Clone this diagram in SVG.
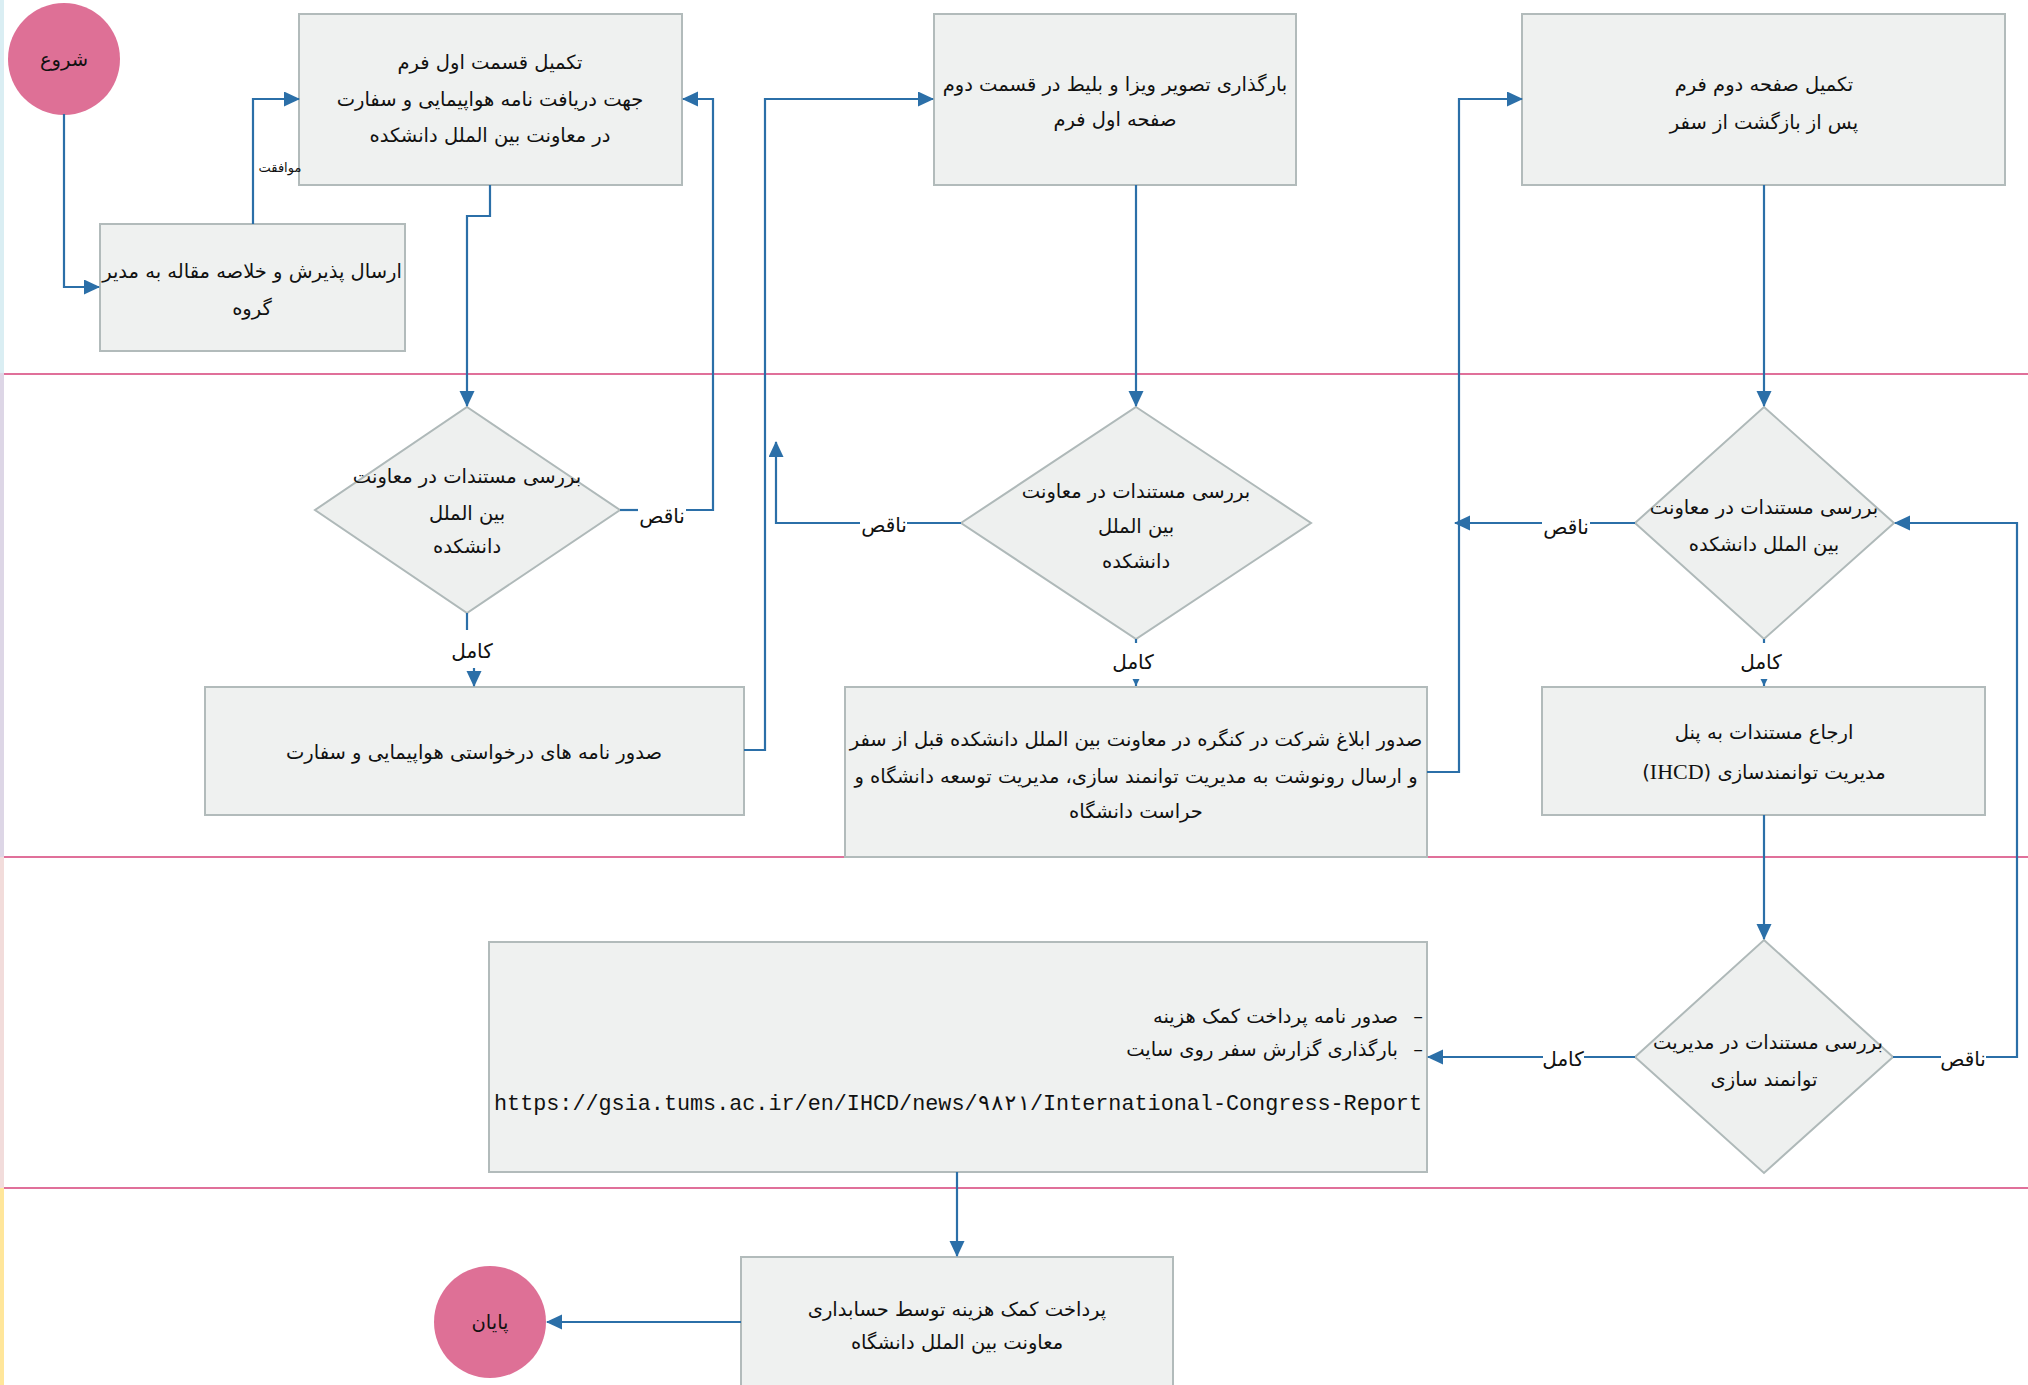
<svg xmlns="http://www.w3.org/2000/svg" width="2028" height="1385" viewBox="0 0 2028 1385">
<style>
.box{fill:#EFF1F0;stroke:#B2BBBB;stroke-width:2}
.dia{fill:#EEF0EF;stroke:#AFB9B9;stroke-width:2}
.term{fill:#DE7096}
.lane{stroke:#E0709A;stroke-width:2;fill:none}
.t{font-family:"DejaVu Sans",sans-serif;font-size:19.5px;fill:#111;text-anchor:middle}
.r{font-family:"DejaVu Sans",sans-serif;font-size:19.5px;fill:#111;text-anchor:end}
.lbl{font-family:"DejaVu Sans",sans-serif;font-size:20px;fill:#111;text-anchor:middle}
.sm{font-family:"DejaVu Sans",sans-serif;font-size:13px;fill:#111;text-anchor:middle}
.url{font-family:"Liberation Mono",monospace;font-size:21.5px;fill:#111}
.c{stroke:#2B6FA8;stroke-width:2.2;fill:none}
</style>
<defs>
<marker id="ah" markerUnits="userSpaceOnUse" markerWidth="16" markerHeight="16" refX="15" refY="7.5" orient="auto">
<path d="M0,0 L16,7.5 L0,15 Z" fill="#2B6FA8"/>
</marker>
<marker id="as" markerUnits="userSpaceOnUse" markerWidth="8" markerHeight="8" refX="7" refY="3.5" orient="auto">
<path d="M0,0 L7,3.5 L0,7 Z" fill="#2B6FA8"/>
</marker>
</defs>
<rect width="2028" height="1385" fill="#FFFFFF"/>
<g id="lanes">
<rect x="0" y="0" width="4" height="373" fill="#DAEEF3"/>
<rect x="0" y="373" width="4" height="484" fill="#DDD6E6"/>
<rect x="0" y="857" width="4" height="331" fill="#F2DCDB"/>
<rect x="0" y="1188" width="4" height="197" fill="#FFE69A"/>
<line class="lane" x1="4" y1="374" x2="2028" y2="374"/>
<line class="lane" x1="4" y1="857" x2="2028" y2="857"/>
<line class="lane" x1="4" y1="1188" x2="2028" y2="1188"/>
</g>
<g id="start">
<circle class="term" cx="64" cy="59" r="56"/>
<text class="t" x="64" y="66">شروع</text>
</g>
<g id="send-acceptance">
<rect class="box" x="100" y="224" width="305" height="127"/>
<text class="t" x="252" y="278" direction="rtl">ارسال پذیرش و خلاصه مقاله به مدیر</text>
<text class="t" x="252" y="315" direction="rtl">گروه</text>
</g>
<g id="form-part1">
<rect class="box" x="299" y="14" width="383" height="171"/>
<text class="t" x="490" y="69" direction="rtl">تکمیل قسمت اول فرم</text>
<text class="t" x="490" y="106" direction="rtl">جهت دریافت نامه هواپیمایی و سفارت</text>
<text class="t" x="490" y="142" direction="rtl">در معاونت بین الملل دانشکده</text>
</g>
<g id="upload-visa">
<rect class="box" x="934" y="14" width="362" height="171"/>
<text class="t" x="1115" y="91" direction="rtl">بارگذاری تصویر ویزا و بلیط در قسمت دوم</text>
<text class="t" x="1115" y="126" direction="rtl">صفحه اول فرم</text>
</g>
<g id="form-part2">
<rect class="box" x="1522" y="14" width="483" height="171"/>
<text class="t" x="1764" y="91" direction="rtl">تکمیل صفحه دوم فرم</text>
<text class="t" x="1764" y="129" direction="rtl">پس از بازگشت از سفر</text>
</g>
<g id="check-1">
<polygon class="dia" points="467,407 620,510 467,613 315,510"/>
<text class="t" x="467" y="483" direction="rtl">بررسی مستندات در معاونت</text>
<text class="t" x="467" y="520" direction="rtl">بین الملل</text>
<text class="t" x="467" y="553" direction="rtl">دانشکده</text>
</g>
<g id="check-2">
<polygon class="dia" points="1136,407 1311,523 1136,639 961,523"/>
<text class="t" x="1136" y="498" direction="rtl">بررسی  مستندات در معاونت</text>
<text class="t" x="1136" y="533" direction="rtl">بین الملل</text>
<text class="t" x="1136" y="568" direction="rtl">دانشکده</text>
</g>
<g id="check-3">
<polygon class="dia" points="1764,407 1894,523 1764,639 1635,523"/>
<text class="t" x="1764" y="514" direction="rtl">بررسی  مستندات در معاونت</text>
<text class="t" x="1764" y="551" direction="rtl">بین الملل  دانشکده</text>
</g>
<g id="issue-letters">
<rect class="box" x="205" y="687" width="539" height="128"/>
<text class="t" x="474" y="759" direction="rtl">صدور نامه های درخواستی هواپیمایی و سفارت</text>
</g>
<g id="issue-notice">
<rect class="box" x="845" y="687" width="582" height="170"/>
<text class="t" x="1136" y="746" direction="rtl">صدور ابلاغ شرکت در کنگره در معاونت بین الملل دانشکده قبل از سفر</text>
<text class="t" x="1136" y="783" direction="rtl">و ارسال رونوشت به مدیریت توانمند سازی، مدیریت توسعه دانشگاه و</text>
<text class="t" x="1136" y="818" direction="rtl">حراست دانشگاه</text>
</g>
<g id="refer-panel">
<rect class="box" x="1542" y="687" width="443" height="128"/>
<text class="t" x="1764" y="739" direction="rtl">ارجاع مستندات به پنل</text>
<text class="t" x="1764" y="779" direction="rtl">مدیریت توانمندسازی (<tspan font-family="Liberation Serif, serif" font-size="22">IHCD</tspan>)</text>
</g>
<g id="check-4">
<polygon class="dia" points="1764,940 1893,1057 1764,1173 1635,1057"/>
<text class="t" x="1768" y="1049" direction="rtl">بررسی  مستندات در مدیریت</text>
<text class="t" x="1764" y="1086" direction="rtl">توانمند سازی</text>
</g>
<g id="payment-letter">
<rect class="box" x="489" y="942" width="938" height="230"/>
<text class="t" x="1418" y="1023">–</text>
<text class="r" x="1398" y="1023">صدور نامه پرداخت کمک هزینه</text>
<text class="t" x="1418" y="1056">–</text>
<text class="r" x="1398" y="1056">بارگذاری گزارش سفر روی سایت</text>
<text class="url" x="494" y="1110" textLength="928" lengthAdjust="spacingAndGlyphs">https://gsia.tums.ac.ir/en/IHCD/news/۹۸۲۱/International-Congress-Report</text>
</g>
<g id="accounting-payment">
<rect class="box" x="741" y="1257" width="432" height="160"/>
<text class="t" x="957" y="1316" direction="rtl">پرداخت کمک هزینه توسط حسابداری</text>
<text class="t" x="957" y="1349" direction="rtl">معاونت بین الملل دانشگاه</text>
</g>
<g id="end">
<circle class="term" cx="490" cy="1322" r="56"/>
<text class="t" x="490" y="1329">پایان</text>
</g>
<g id="connectors">
<polyline class="c" points="64,114 64,287 99,287" marker-end="url(#ah)"/>
<polyline class="c" points="253,224 253,99 299,99" marker-end="url(#ah)"/>
<polyline class="c" points="490,185 490,216 467,216 467,406" marker-end="url(#ah)"/>
<polyline class="c" points="620,510 638,510"/>
<polyline class="c" points="686,510 713,510 713,99 683,99" marker-end="url(#ah)"/>
<polyline class="c" points="467,613 467,630"/>
<polyline class="c" points="474,668 474,686" marker-end="url(#ah)"/>
<polyline class="c" points="744,750 765,750 765,99 933,99" marker-end="url(#ah)"/>
<polyline class="c" points="1136,185 1136,406" marker-end="url(#ah)"/>
<polyline class="c" points="961,523 907,523"/>
<polyline class="c" points="860,523 776,523 776,442" marker-end="url(#ah)"/>
<polyline class="c" points="1136,639 1136,643"/>
<polyline class="c" points="1136,680 1136,686" marker-end="url(#as)"/>
<polyline class="c" points="1427,772 1459,772 1459,99 1522,99" marker-end="url(#ah)"/>
<polyline class="c" points="1764,185 1764,406" marker-end="url(#ah)"/>
<polyline class="c" points="1635,523 1590,523"/>
<polyline class="c" points="1542,523 1455,523" marker-end="url(#ah)"/>
<polyline class="c" points="1764,639 1764,643"/>
<polyline class="c" points="1764,680 1764,686" marker-end="url(#as)"/>
<polyline class="c" points="1764,815 1764,939" marker-end="url(#ah)"/>
<polyline class="c" points="1893,1057 1941,1057"/>
<polyline class="c" points="1986,1057 2017,1057 2017,523 1895,523" marker-end="url(#ah)"/>
<polyline class="c" points="1635,1057 1584,1057"/>
<polyline class="c" points="1543,1057 1428,1057" marker-end="url(#ah)"/>
<polyline class="c" points="957,1172 957,1256" marker-end="url(#ah)"/>
<polyline class="c" points="741,1322 547,1322" marker-end="url(#ah)"/>
<text class="sm" x="280" y="172">موافقت</text>
<text class="lbl" x="662" y="523">ناقص</text>
<text class="lbl" x="472" y="658">کامل</text>
<text class="lbl" x="884" y="532">ناقص</text>
<text class="lbl" x="1133" y="669">کامل</text>
<text class="lbl" x="1566" y="534">ناقص</text>
<text class="lbl" x="1761" y="669">کامل</text>
<text class="lbl" x="1963" y="1066">ناقص</text>
<text class="lbl" x="1563" y="1066">کامل</text>
</g>
</svg>
